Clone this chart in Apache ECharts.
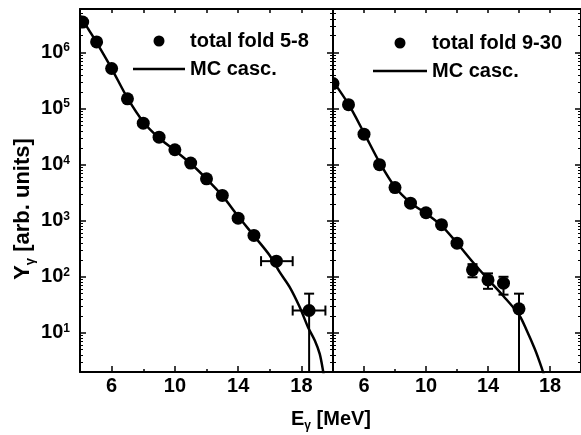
<!DOCTYPE html>
<html><head><meta charset="utf-8">
<script src="https://cdn.jsdelivr.net/npm/echarts@6/dist/echarts.min.js"></script>
<style>html,body{margin:0;padding:0;background:#fff}#c{width:581px;height:435px}</style>
</head><body><div id="c"></div>
<script>
// ---- tick labels / ticks ----
const xLabelValues = [6, 10, 14, 18];
const xMinorBottom = [8, 12, 16];
const xTopTicks = [6, 8, 10, 12, 14, 16, 18];
const yMajorTicks = [10, 100, 1000, 10000, 100000, 1000000];
const yMinorMult = [2, 3, 4, 5, 6, 7, 8, 9];

// ---- left panel: total fold 5-8 ----
const leftName = 'total fold 5-8';
const leftX = [4.17, 5.05, 6, 7, 8, 9, 10, 11, 12, 13, 14, 15, 16.42, 18.49];
const leftY = [3.5e6, 1.55e6, 5.2e5, 1.5e5, 5.5e4, 3.1e4, 1.85e4, 1.07e4, 5.6e3, 2.83e3, 1.11e3, 547, 190, 25];
const leftErrX = [16.42, 18.49];
const leftErrY = [190, 25];
const leftErrYLow = [NaN, 0.5];
const leftErrYHigh = [NaN, 50];
const leftErrXLow = [15.45, 17.45];
const leftErrXHigh = [17.45, 19.52];
const leftCurveX = [4, 4.5, 5, 6, 7, 8, 9, 10, 11, 12, 13, 14, 15, 16, 16.63, 17.27, 17.9, 18.42, 18.85, 19.16, 19.37, 19.5];
const leftCurveY = [4.6e6, 2.7e6, 1.6e6, 5.2e5, 1.55e5, 5.8e4, 3.0e4, 1.8e4, 1.05e4, 5.6e3, 2.8e3, 1.2e3, 540, 240, 121, 65, 28.6, 12.6, 7.3, 4.2, 2.1, 1.2];

// ---- right panel: total fold 9-30 ----
const rightName = 'total fold 9-30';
const rightX = [4, 5, 6, 7, 8, 9, 10, 11, 12, 13, 14, 15, 16];
const rightY = [2.8e5, 1.18e5, 3.5e4, 1.0e4, 3.9e3, 2.06e3, 1.39e3, 850, 398, 133, 88, 77, 26.8];
const rightErrX = [13, 14, 15, 16];
const rightErrY = [133, 88, 77, 26.8];
const rightErrYLow = [98, 61, 48, 0.5];
const rightErrYHigh = [168, 115, 100, 50];
const rightErrXLow = [NaN, NaN, NaN, NaN];
const rightErrXHigh = [NaN, NaN, NaN, NaN];
const rightCurveX = [4, 5, 6, 7, 8, 9, 10, 11, 12, 13, 14, 15, 16, 16.5, 17, 17.3, 17.55, 17.7];
const rightCurveY = [3.1e5, 1.2e5, 3.7e4, 1.1e4, 4.0e3, 2.1e3, 1.35e3, 820, 400, 185, 90, 45, 21, 11, 5.3, 3.2, 2.0, 1.4];

const curveName = 'MC casc.';

const F = '"Liberation Sans", Arial, Helvetica, sans-serif';
const BLACK = '#000';

const yMinorTicks = [];
[1, 10, 100, 1000, 10000, 100000, 1000000].forEach(d => yMinorMult.forEach(m => { const v = d * m; if (v >= 2 && v <= 6e6) yMinorTicks.push(v); }));

const zip = (a, b) => a.map((v, i) => [v, b[i]]);
const zipErr = (x, y, yl, yh, xl, xh) => x.map((v, i) => [v, y[i], yl[i], yh[i], xl[i], xh[i]]);

const chart = echarts.init(document.getElementById('c'), null, {renderer: 'canvas'});

const gridL = {left: 80, top: 9, width: 253, height: 363};
const gridR = {left: 333, top: 9, width: 251, height: 363};

const axisLineStyle = {color: BLACK, width: 2};

function xMain(gridIndex) {
  return {
    type: 'value', gridIndex, position: 'bottom', min: 4, max: 20, interval: 2,
    axisLine: {show: true, onZero: false, lineStyle: axisLineStyle},
    axisTick: {show: true, inside: true, length: 6, customValues: xLabelValues, lineStyle: {color: BLACK, width: 1.5}},
    axisLabel: {show: true, customValues: xLabelValues, margin: 4, color: BLACK, fontFamily: F, fontWeight: 'bold', fontSize: 20},
    splitLine: {show: false}
  };
}
function xTop(gridIndex) {
  return {
    type: 'value', gridIndex, position: 'top', min: 4, max: 20, interval: 2,
    axisLine: {show: true, onZero: false, lineStyle: axisLineStyle},
    axisTick: {show: true, inside: true, length: 4, customValues: xTopTicks, lineStyle: {color: BLACK, width: 1.5}},
    axisLabel: {show: false}, splitLine: {show: false}
  };
}
function xMinor(gridIndex) {
  return {
    type: 'value', gridIndex, position: 'bottom', min: 4, max: 20, interval: 2,
    axisLine: {show: false},
    axisTick: {show: true, inside: true, length: 3, customValues: xMinorBottom, lineStyle: {color: BLACK, width: 1.5}},
    axisLabel: {show: false}, splitLine: {show: false}
  };
}
function yMain(gridIndex, position, labels) {
  return {
    type: 'log', logBase: 10, gridIndex, position, min: 2, max: 6e6,
    axisLine: {show: true, onZero: false, lineStyle: axisLineStyle},
    axisTick: {show: true, inside: true, length: 6, customValues: yMajorTicks, lineStyle: {color: BLACK, width: 1.5}},
    axisLabel: labels ? {
      show: true, customValues: yMajorTicks, margin: 10, color: BLACK,
      formatter: v => '{b|10}{p|' + Math.round(Math.log10(v)) + '}',
      rich: {
        b: {fontFamily: F, fontWeight: 'bold', fontSize: 20, color: BLACK},
        p: {fontFamily: F, fontWeight: 'bold', fontSize: 12, color: BLACK, padding: [0, 0, 9, 0]}
      }
    } : {show: false},
    splitLine: {show: false}
  };
}
function yMinor(gridIndex, position) {
  return {
    type: 'log', logBase: 10, gridIndex, position, min: 2, max: 6e6,
    axisLine: {show: false},
    axisTick: {show: true, inside: true, length: 3, customValues: yMinorTicks, lineStyle: {color: BLACK, width: 1}},
    axisLabel: {show: false}, splitLine: {show: false}
  };
}

function pointRender(params, api) {
  const c = api.coord([api.value(0), api.value(1)]);
  return {type: 'circle', shape: {cx: c[0], cy: c[1], r: 6.5}, style: {fill: BLACK}};
}
function errRender(params, api) {
  const x = api.value(0), y = api.value(1);
  const yl = api.value(2), yh = api.value(3), xl = api.value(4), xh = api.value(5);
  const cs = params.coordSys;
  const bottom = cs.y + cs.height;
  const c = api.coord([x, y]);
  const st = {stroke: BLACK, lineWidth: 2};
  const cap = 5;
  const ch = [];
  if (!isNaN(yl) && !isNaN(yh)) {
    let pl = api.coord([x, yl])[1];
    const ph = api.coord([x, yh])[1];
    let lowCap = true;
    if (pl > bottom) { pl = bottom; lowCap = false; }
    ch.push({type: 'line', shape: {x1: c[0], y1: pl, x2: c[0], y2: ph}, style: st});
    ch.push({type: 'line', shape: {x1: c[0] - cap, y1: ph, x2: c[0] + cap, y2: ph}, style: st});
    if (lowCap) ch.push({type: 'line', shape: {x1: c[0] - cap, y1: pl, x2: c[0] + cap, y2: pl}, style: st});
  }
  if (!isNaN(xl) && !isNaN(xh)) {
    const pxl = api.coord([xl, y])[0];
    const pxh = api.coord([xh, y])[0];
    ch.push({type: 'line', shape: {x1: pxl, y1: c[1], x2: pxh, y2: c[1]}, style: st});
    ch.push({type: 'line', shape: {x1: pxl, y1: c[1] - cap, x2: pxl, y2: c[1] + cap}, style: st});
    ch.push({type: 'line', shape: {x1: pxh, y1: c[1] - cap, x2: pxh, y2: c[1] + cap}, style: st});
  }
  return {type: 'group', children: ch};
}

function legend(name, left, top, w) {
  return {
    show: true, orient: 'vertical', left, top, itemWidth: w, itemHeight: 11, itemGap: 8,
    selectedMode: false, padding: 0,
    data: [{name, icon: 'circle'}, {name: curveName, icon: 'path://M0,0L52,0L52,2.5L0,2.5Z'}],
    textStyle: {color: BLACK, fontFamily: F, fontWeight: 'bold', fontSize: 20, lineHeight: 18}
  };
}

const option = {
  animation: false,
  backgroundColor: '#fff',
  grid: [gridL, gridR, Object.assign({}, gridL), Object.assign({}, gridR)],
  xAxis: [xMain(0), xTop(0), xMain(1), xTop(1), xMinor(2), xMinor(3)],
  yAxis: [yMain(0, 'left', true), yMain(0, 'right', false), yMain(1, 'left', false), yMain(1, 'right', false),
          yMinor(2, 'left'), yMinor(2, 'right'), yMinor(3, 'left'), yMinor(3, 'right')],
  legend: [legend(leftName, 133, 31, 52), legend(rightName, 373, 33, 54)],
  series: [
    {type: 'line', name: curveName, xAxisIndex: 0, yAxisIndex: 0, data: zip(leftCurveX, leftCurveY),
     symbol: 'none', smooth: 0.3, clip: true, lineStyle: {color: BLACK, width: 2.5}, itemStyle: {color: BLACK}, z: 3},
    {type: 'custom', name: leftName, xAxisIndex: 0, yAxisIndex: 0, data: zip(leftX, leftY),
     renderItem: pointRender, clip: true, itemStyle: {color: BLACK}, encode: {x: 0, y: 1}, z: 4},
    {type: 'custom', name: 'err-left', xAxisIndex: 0, yAxisIndex: 0,
     data: zipErr(leftErrX, leftErrY, leftErrYLow, leftErrYHigh, leftErrXLow, leftErrXHigh),
     renderItem: errRender, clip: true, encode: {x: 0, y: 1}, z: 4},
    {type: 'line', name: curveName, xAxisIndex: 2, yAxisIndex: 2, data: zip(rightCurveX, rightCurveY),
     symbol: 'none', smooth: 0.3, clip: true, lineStyle: {color: BLACK, width: 2.5}, itemStyle: {color: BLACK}, z: 3},
    {type: 'custom', name: rightName, xAxisIndex: 2, yAxisIndex: 2, data: zip(rightX, rightY),
     renderItem: pointRender, clip: true, itemStyle: {color: BLACK}, encode: {x: 0, y: 1}, z: 4},
    {type: 'custom', name: 'err-right', xAxisIndex: 2, yAxisIndex: 2,
     data: zipErr(rightErrX, rightErrY, rightErrYLow, rightErrYHigh, rightErrXLow, rightErrXHigh),
     renderItem: errRender, clip: true, encode: {x: 0, y: 1}, z: 4}
  ],
  graphic: [
    {type: 'text', x: 331, y: 419, z: 10,
     style: {text: '{b|E}{s|γ}{b| [MeV]}', align: 'center', verticalAlign: 'middle',
       rich: {b: {fontFamily: F, fontWeight: 'bold', fontSize: 20, fill: BLACK},
              s: {fontFamily: F, fontWeight: 'bold', fontSize: 12, fill: BLACK, padding: [13, 0, 0, 0]}}}},
    {type: 'text', x: 23, y: 209, rotation: Math.PI / 2, z: 10,
     style: {text: '{b|Y}{s|γ}{b| [arb. units]}', align: 'center', verticalAlign: 'middle',
       rich: {b: {fontFamily: F, fontWeight: 'bold', fontSize: 22, fill: BLACK},
              s: {fontFamily: F, fontWeight: 'bold', fontSize: 13, fill: BLACK, padding: [14, 0, 0, 0]}}}}
  ]
};
chart.setOption(option);
</script>
</body></html>
